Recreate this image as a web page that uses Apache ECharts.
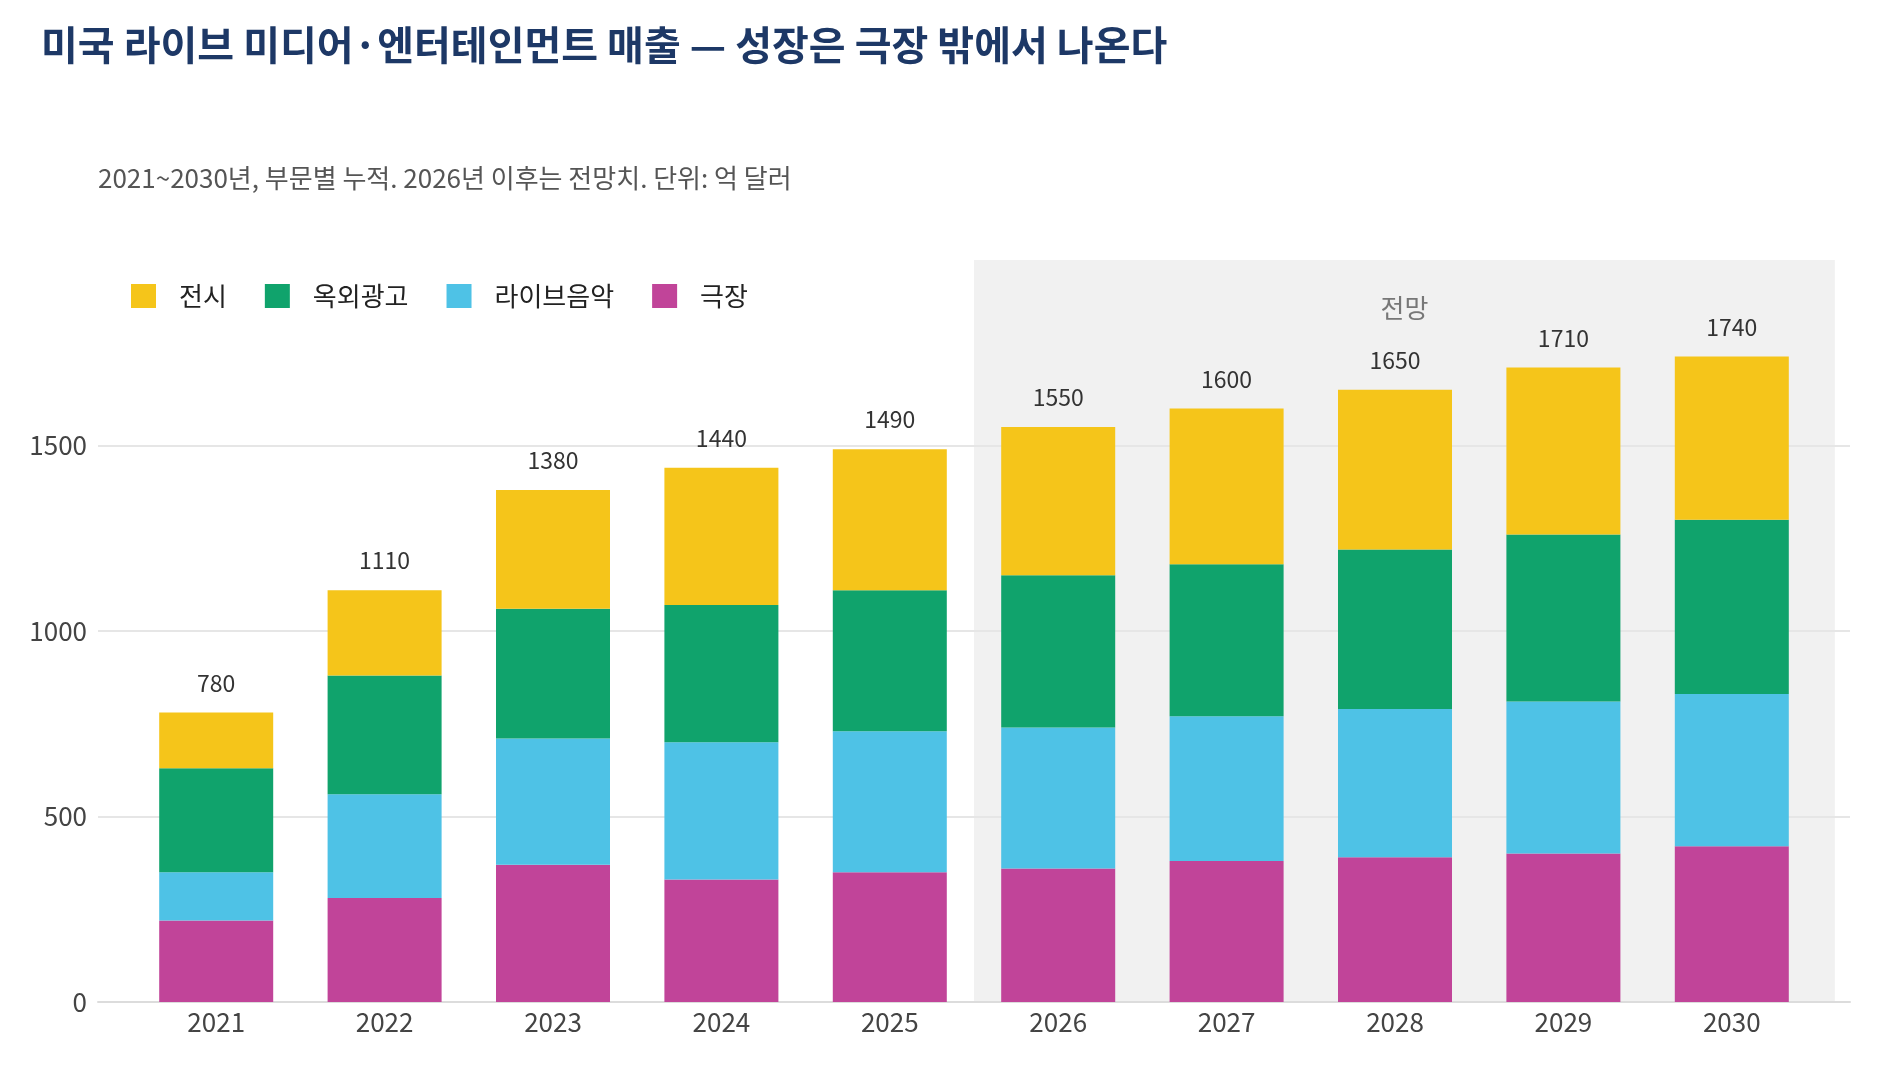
<!DOCTYPE html>
<html>
<head>
    <meta charset="utf-8">
    <title>미국 라이브 미디어·엔터테인먼트 매출</title>
    <script src="https://cdn.jsdelivr.net/npm/echarts@6/dist/echarts.min.js"></script>
    <style>
        html, body {
            margin: 0;
            width: 100%;
            height: 100%;
            background: #fff;
        }

        #main {
            width: 1880px;
            height: 1080px;
        }
    </style>
</head>
<body>
<div id="main"></div>
<script type="text/javascript">
    var myChart = echarts.init(document.getElementById('main'));

    // 연도 (x축)
    const years = ['2021', '2022', '2023', '2024', '2025', '2026', '2027', '2028', '2029', '2030'];
    // 부문별 매출, 억 달러 (아래에서 위로 쌓는 순서)
    const theater = [220, 280, 370, 330, 350, 360, 380, 390, 400, 420];
    const liveMusic = [130, 280, 340, 370, 380, 380, 390, 400, 410, 410];
    const outdoorAds = [280, 320, 350, 370, 380, 410, 410, 430, 450, 470];
    const exhibition = [150, 230, 320, 370, 380, 400, 420, 430, 450, 440];
    const legendNames = ['전시', '옥외광고', '라이브음악', '극장'];
    const yTicks = [0, 500, 1000, 1500];

    const font = "'Noto Sans CJK KR', 'Noto Sans', sans-serif";
    const colors = {
        '극장': '#c14499',
        '라이브음악': '#4ec2e6',
        '옥외광고': '#10a36c',
        '전시': '#f5c51a'
    };

    function total(i) {
        return theater[i] + liveMusic[i] + outdoorAds[i] + exhibition[i];
    }

    const stacks = [
        ['극장', theater],
        ['라이브음악', liveMusic],
        ['옥외광고', outdoorAds],
        ['전시', exhibition]
    ];

    // 막대: grid 0 (카테고리 축)
    const series = stacks.map(([name, arr], k) => {
        let s = {
            name: name,
            type: 'bar',
            stack: 'all',
            xAxisIndex: 0,
            yAxisIndex: 0,
            barWidth: 114,
            itemStyle: {color: colors[name]},
            data: arr
        };
        if (k === stacks.length - 1) {
            s.label = {
                show: true,
                position: 'top',
                distance: 18,
                color: '#333',
                fontSize: 23,
                fontFamily: font,
                formatter: p => total(p.dataIndex)
            };
        }
        return s;
    });

    // 전망 구간 음영: grid 1 (눈금선 쪽)
    series.push({
        name: '전망구간',
        type: 'line',
        xAxisIndex: 1,
        yAxisIndex: 1,
        data: [],
        markArea: {
            silent: true,
            z: 1,
            itemStyle: {color: '#f1f1f1'},
            label: {
                show: true,
                position: 'insideTop',
                distance: 35,
                color: '#777',
                fontSize: 26,
                fontFamily: font
            },
            data: [[
                {name: '전망', xAxis: 2025.5, yAxis: 0},
                {xAxis: 2030.61, yAxis: 2000}
            ]]
        }
    });

    var option = {
        animation: false,
        backgroundColor: '#fff',
        title: [{
            text: '미국 라이브 미디어·엔터테인먼트 매출 — 성장은 극장 밖에서 나온다',
            left: 41,
            top: 25,
            padding: 0,
            textStyle: {
                color: '#1d3866',
                fontSize: 40,
                fontWeight: 'bold',
                fontFamily: font
            }
        }, {
            text: '2021~2030년, 부문별 누적. 2026년 이후는 전망치. 단위: 억 달러',
            left: 98,
            top: 165,
            padding: 0,
            textStyle: {
                color: '#555',
                fontSize: 26,
                fontWeight: 'normal',
                fontFamily: font
            }
        }],
        legend: {
            data: legendNames,
            left: 131,
            top: 283,
            padding: 0,
            icon: 'rect',
            itemWidth: 25,
            itemHeight: 24,
            itemGap: 38,
            textStyle: {
                color: '#222',
                fontSize: 26,
                fontFamily: font,
                padding: [0, 0, 0, 18]
            }
        },
        grid: [
            {left: 132, right: 64, top: 260, bottom: 78},
            {left: 98, right: 30, top: 260, bottom: 78}
        ],
        xAxis: [{
            type: 'category',
            gridIndex: 0,
            data: years,
            axisLine: {show: false},
            axisTick: {show: false},
            axisLabel: {
                margin: 7,
                color: '#444',
                fontSize: 26,
                fontFamily: font
            }
        }, {
            type: 'value',
            gridIndex: 1,
            min: 2020.3,
            max: 2030.7,
            z: 1.5,
            axisLine: {show: true, lineStyle: {color: '#dcdcdc', width: 2}},
            axisTick: {show: false},
            axisLabel: {show: false},
            splitLine: {show: false}
        }],
        yAxis: [{
            type: 'value',
            gridIndex: 0,
            min: 0,
            max: 2000,
            show: false
        }, {
            type: 'value',
            gridIndex: 1,
            min: 0,
            max: 2000,
            interval: 500,
            z: 1.5,
            axisLine: {show: false},
            axisTick: {show: false},
            axisLabel: {
                customValues: yTicks,
                margin: 11,
                color: '#444',
                fontSize: 26,
                fontFamily: font,
                formatter: v => String(v)
            },
            splitLine: {
                show: true,
                showMaxLine: false,
                lineStyle: {color: '#e6e6e6', width: 2}
            }
        }],
        series: series
    };

    myChart.setOption(option);
</script>
</body>
</html>
